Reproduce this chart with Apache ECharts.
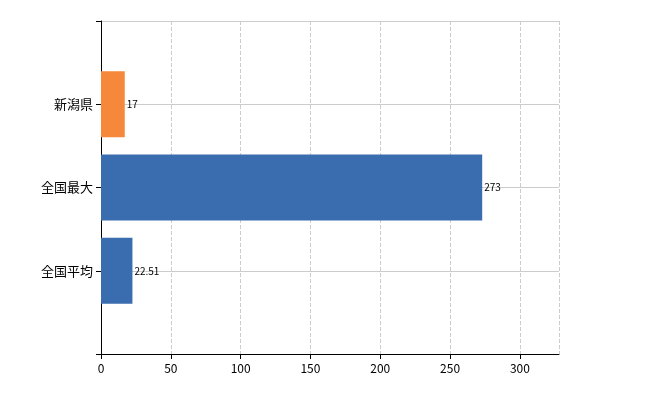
<!DOCTYPE html>
<html>
<head>
<meta charset="utf-8">
<script src="https://cdn.jsdelivr.net/npm/echarts@6/dist/echarts.min.js"></script>
<style>html,body{margin:0;background:#fff}#c{width:650px;height:400px}</style>
</head>
<body>
<div id="c"></div>
<script>
// 上下の空カテゴリは余白用
var categories = ['', '全国平均', '全国最大', '新潟県', ''];
var values = [null, 22.51, 273, 17, null];
var barColors = ['#3a6cb0', '#3a6cb0', '#3a6cb0', '#f5883a', '#3a6cb0'];
var xTicks = [0, 50, 100, 150, 200, 250, 300];

var chart = echarts.init(document.getElementById('c'));
chart.setOption({
  animation: false,
  textStyle: { fontFamily: 'Noto Sans CJK JP' },
  grid: { left: 101, right: 91, top: 21, bottom: 46 },
  xAxis: {
    type: 'value', min: 0, max: 328, interval: 50,
    axisLine: { show: true, lineStyle: { color: '#000' } },
    axisTick: { show: true, length: 5, lineStyle: { color: '#000' } },
    axisLabel: { color: '#000', fontSize: 12, showMaxLabel: false,
      formatter: function (v) { return xTicks.indexOf(v) >= 0 ? v : ''; } },
    splitLine: { lineStyle: { color: '#ccc', type: 'dashed' } }
  },
  yAxis: {
    type: 'category', data: categories, boundaryGap: false,
    axisLine: { lineStyle: { color: '#000' } },
    axisTick: { length: 5, lineStyle: { color: '#000' } },
    axisLabel: { color: '#000', fontSize: 13, margin: 8 },
    splitLine: { show: true, lineStyle: { color: '#ccc' } }
  },
  series: [{
    type: 'bar', barWidth: 66,
    data: values.map(function (v, i) { return { value: v, itemStyle: { color: barColors[i] } }; }),
    label: { show: true, position: 'right', distance: 2, color: '#000', fontSize: 10 }
  }]
});
</script>
</body>
</html>
